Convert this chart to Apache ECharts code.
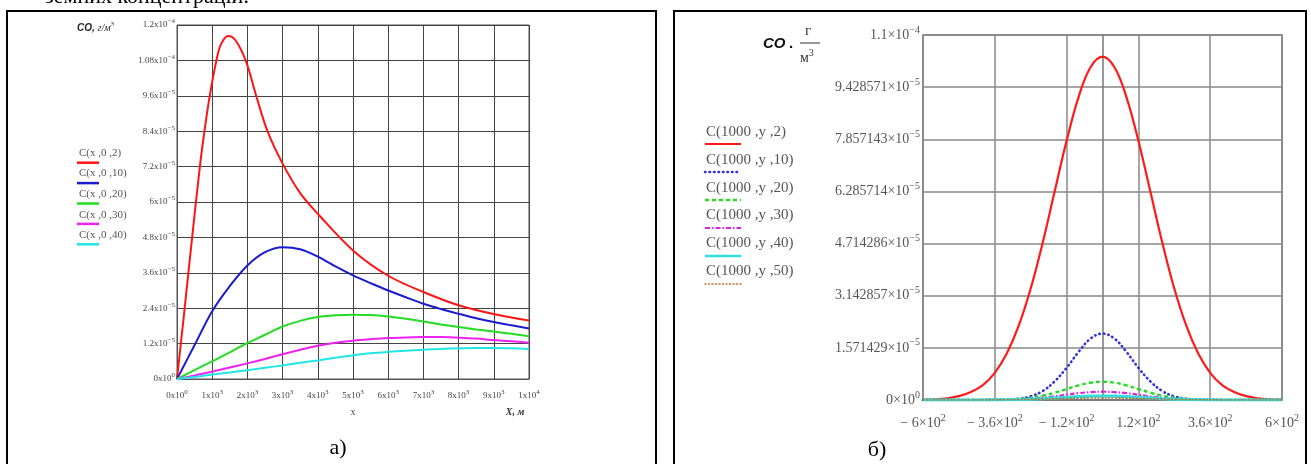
<!DOCTYPE html>
<html><head><meta charset="utf-8">
<script src="https://cdn.jsdelivr.net/npm/echarts@6/dist/echarts.min.js"></script>
<style>html,body{margin:0;padding:0;background:#fff}#c{width:1311px;height:464px}</style>
</head><body><div id="c"></div>
<script>
// ---------- panel a) data ----------
const redX = [0, 200, 430, 650, 780, 930, 1120, 1250, 1450, 1650, 1950, 2250, 2570, 3000, 3500, 4000, 5000, 6000, 7000, 8000, 9000, 10000];
const redY = [0, 2.2e-5, 4.8e-5, 7.2e-5, 8.4e-5, 9.6e-5, 1.08e-4, 1.135e-4, 1.163e-4, 1.15e-4, 1.08e-4, 9.6e-5, 8.4e-5, 7.3e-5, 6.3e-5, 5.6e-5, 4.36e-5, 3.5e-5, 2.95e-5, 2.5e-5, 2.2e-5, 1.98e-5];
const leftX = [0, 500, 1000, 1500, 2000, 2500, 3000, 3500, 4000, 4500, 5000, 5500, 6000, 6500, 7000, 7500, 8000, 8500, 9000, 9500, 10000];
const blueY = [0, 1.15e-5, 2.3e-5, 3.15e-5, 3.85e-5, 4.3e-5, 4.47e-5, 4.4e-5, 4.15e-5, 3.82e-5, 3.51e-5, 3.25e-5, 3.0e-5, 2.77e-5, 2.55e-5, 2.37e-5, 2.21e-5, 2.06e-5, 1.93e-5, 1.82e-5, 1.71e-5];
const greenY = [0, 3e-6, 6e-6, 9e-6, 1.22e-5, 1.5e-5, 1.78e-5, 1.97e-5, 2.1e-5, 2.16e-5, 2.18e-5, 2.17e-5, 2.12e-5, 2.04e-5, 1.95e-5, 1.85e-5, 1.76e-5, 1.68e-5, 1.61e-5, 1.53e-5, 1.45e-5];
const magentaY = [0, 1.2e-6, 2.5e-6, 3.9e-6, 5.3e-6, 6.8e-6, 8.4e-6, 9.9e-6, 1.13e-5, 1.23e-5, 1.3e-5, 1.35e-5, 1.39e-5, 1.41e-5, 1.42e-5, 1.42e-5, 1.4e-5, 1.37e-5, 1.32e-5, 1.28e-5, 1.23e-5];
const cyanY = [0, 7e-7, 1.5e-6, 2.2e-6, 3e-6, 3.8e-6, 4.6e-6, 5.5e-6, 6.3e-6, 7.2e-6, 8e-6, 8.7e-6, 9.2e-6, 9.6e-6, 9.9e-6, 1.02e-5, 1.04e-5, 1.05e-5, 1.05e-5, 1.04e-5, 1.02e-5];
const leftYTicks = ['0x10^0', '1.2x10^−5', '2.4x10^−5', '3.6x10^−5', '4.8x10^−5', '6x10^−5', '7.2x10^−5', '8.4x10^−5', '9.6x10^−5', '1.08x10^−4', '1.2x10^−4'];
const leftXTicks = ['0x10^0', '1x10^3', '2x10^3', '3x10^3', '4x10^3', '5x10^3', '6x10^3', '7x10^3', '8x10^3', '9x10^3', '1x10^4'];
const leftLegend = ['C(x ,0 ,2)', 'C(x ,0 ,10)', 'C(x ,0 ,20)', 'C(x ,0 ,30)', 'C(x ,0 ,40)'];

// ---------- panel б) data ----------
const rightX = [-600, -560, -520, -480, -440, -400, -360, -320, -280, -240, -200, -160, -120, -80, -40, 0, 40, 80, 120, 160, 200, 240, 280, 320, 360, 400, 440, 480, 520, 560, 600];
const r2 = [1e-7, 2e-7, 5e-7, 1.15e-6, 2.4e-6, 4.5e-6, 8.2e-6, 1.4e-5, 2.24e-5, 3.36e-5, 4.74e-5, 6.28e-5, 7.81e-5, 9.13e-5, 1.003e-4, 1.035e-4, 1.003e-4, 9.13e-5, 7.81e-5, 6.28e-5, 4.74e-5, 3.36e-5, 2.24e-5, 1.4e-5, 8.2e-6, 4.5e-6, 2.4e-6, 1.15e-6, 5e-7, 2e-7, 1e-7];
const r10 = [0, 0, 0, 0, 0, 0, 6e-8, 1.2e-7, 4e-7, 1.1e-6, 2.7e-6, 5.6e-6, 9.7e-6, 1.45e-5, 1.85e-5, 2.0e-5, 1.85e-5, 1.45e-5, 9.7e-6, 5.6e-6, 2.7e-6, 1.1e-6, 4e-7, 1.2e-7, 6e-8, 0, 0, 0, 0, 0, 0];
const r20 = [0, 0, 0, 0, 0, 0, 5e-8, 1.5e-7, 3.5e-7, 7e-7, 1.3e-6, 2.2e-6, 3.3e-6, 4.4e-6, 5.2e-6, 5.5e-6, 5.2e-6, 4.4e-6, 3.3e-6, 2.2e-6, 1.3e-6, 7e-7, 3.5e-7, 1.5e-7, 5e-8, 0, 0, 0, 0, 0, 0];
const r30 = [0, 0, 0, 0, 0, 0, 0, 1e-7, 2e-7, 4e-7, 7e-7, 1.1e-6, 1.6e-6, 2.06e-6, 2.37e-6, 2.5e-6, 2.37e-6, 2.06e-6, 1.6e-6, 1.1e-6, 7e-7, 4e-7, 2e-7, 1e-7, 0, 0, 0, 0, 0, 0, 0];
const r40 = [0, 0, 0, 0, 0, 0, 4e-8, 8e-8, 1.6e-7, 2.7e-7, 4.3e-7, 6.3e-7, 8.3e-7, 1.02e-6, 1.15e-6, 1.2e-6, 1.15e-6, 1.02e-6, 8.3e-7, 6.3e-7, 4.3e-7, 2.7e-7, 1.6e-7, 8e-8, 4e-8, 0, 0, 0, 0, 0, 0];
const r50 = [0, 0, 0, 0, 0, 2e-8, 4e-8, 7e-8, 1.2e-7, 1.9e-7, 2.7e-7, 3.6e-7, 4.5e-7, 5.3e-7, 5.8e-7, 6e-7, 5.8e-7, 5.3e-7, 4.5e-7, 3.6e-7, 2.7e-7, 1.9e-7, 1.2e-7, 7e-8, 4e-8, 2e-8, 0, 0, 0, 0, 0];
const rightYTicks = ['0×10^0', '1.571429×10^−5', '3.142857×10^−5', '4.714286×10^−5', '6.285714×10^−5', '7.857143×10^−5', '9.428571×10^−5', '1.1×10^−4'];
const rightXTicks = ['− 6×10^2', '− 3.6×10^2', '− 1.2×10^2', '1.2×10^2', '3.6×10^2', '6×10^2'];
const rightLegend = ['C(1000 ,y ,2)', 'C(1000 ,y ,10)', 'C(1000 ,y ,20)', 'C(1000 ,y ,30)', 'C(1000 ,y ,40)', 'C(1000 ,y ,50)'];

// ---------- styles ----------
const SERIF = 'Liberation Serif';
const leftColors = ['#ff1414', '#1a1ad0', '#22dd22', '#ee22ee', '#22e6e6'];
const rightStyles = [
  {color: '#ff1a1a', width: 2.2, type: 'solid', cap: 'butt'},
  {color: '#3030e0', width: 2.6, type: [0.5, 4], cap: 'round'},
  {color: '#22dd22', width: 2.4, type: [4, 3], cap: 'butt'},
  {color: '#dd22dd', width: 2.2, type: [5, 2, 1.5, 2], cap: 'butt'},
  {color: '#33dddd', width: 3.2, type: 'solid', cap: 'butt'},
  {color: '#b07a3a', width: 1.6, type: [1, 2.5], cap: 'round'}
];

function pair(xs, ys) { return xs.map((x, i) => [x, ys[i]]); }
function sup(s) { const p = s.split('^'); return '{m|' + p[0] + '}{e|' + p[1] + '}'; }

const leftRich = {
  m: {fontFamily: SERIF, fontSize: 9, color: '#444', lineHeight: 14},
  e: {fontFamily: SERIF, fontSize: 7, color: '#444', lineHeight: 7, verticalAlign: 'top'}
};
const rightRich = {
  m: {fontFamily: SERIF, fontSize: 14, color: '#555', lineHeight: 20},
  e: {fontFamily: SERIF, fontSize: 10, color: '#555', lineHeight: 10, verticalAlign: 'top'}
};

const graphic = [];
// top cut-off text
graphic.push({type: 'text', left: 45, top: -14, style: {text: 'земних концентрацій.', font: '22px "Liberation Serif"', fill: '#000'}});
// boxes
graphic.push({type: 'rect', shape: {x: 7, y: 11, width: 649, height: 470}, style: {fill: 'none', stroke: '#000', lineWidth: 2}, z: 10});
graphic.push({type: 'rect', shape: {x: 674, y: 11, width: 632, height: 470}, style: {fill: 'none', stroke: '#000', lineWidth: 2}, z: 10});
// panel labels
graphic.push({type: 'text', x: 338, y: 448, style: {text: 'а)', font: '22px "Liberation Serif"', fill: '#000', align: 'center', verticalAlign: 'middle'}});
graphic.push({type: 'text', x: 877, y: 450, style: {text: 'б)', font: '22px "Liberation Serif"', fill: '#000', align: 'center', verticalAlign: 'middle'}});
// left axis titles
graphic.push({type: 'text', x: 77, y: 28, style: {text: '{a|CO, }{b|г/м}{s|3}', verticalAlign: 'middle', rich: {
  a: {font: 'italic bold 10px "Liberation Sans"', fill: '#222', lineHeight: 14},
  b: {font: 'italic 10px "Liberation Serif"', fill: '#222', lineHeight: 14},
  s: {font: 'italic 7px "Liberation Serif"', fill: '#222', lineHeight: 7, verticalAlign: 'top'}}}});
graphic.push({type: 'text', x: 353, y: 412, style: {text: 'x', font: '10px "Liberation Serif"', fill: '#444', align: 'center', verticalAlign: 'middle'}});
graphic.push({type: 'text', x: 515, y: 412, style: {text: 'X, м', font: 'italic bold 10px "Liberation Serif"', fill: '#333', align: 'center', verticalAlign: 'middle'}});
// left legend
leftLegend.forEach((t, i) => {
  graphic.push({type: 'text', x: 79, y: 153 + i * 20.6, style: {text: t, font: '11px "Liberation Serif"', fill: '#555', verticalAlign: 'middle'}});
  graphic.push({type: 'line', shape: {x1: 77, y1: 162.7 + i * 20.4, x2: 99, y2: 162.7 + i * 20.4}, style: {stroke: leftColors[i], lineWidth: 2.5}});
});
// right axis title: CO . г / м^3
graphic.push({type: 'text', x: 763, y: 44, style: {text: 'CO', font: 'italic bold 15px "Liberation Sans"', fill: '#111', verticalAlign: 'middle'}});
graphic.push({type: 'text', x: 789, y: 44, style: {text: '.', font: 'bold 15px "Liberation Sans"', fill: '#111', verticalAlign: 'middle'}});
graphic.push({type: 'text', x: 808, y: 31, style: {text: 'г', font: '15px "Liberation Serif"', fill: '#333', align: 'center', verticalAlign: 'middle'}});
graphic.push({type: 'line', shape: {x1: 800, y1: 43, x2: 820, y2: 43}, style: {stroke: '#333', lineWidth: 1}});
graphic.push({type: 'text', x: 800, y: 58, style: {text: '{b|м}{s|3}', verticalAlign: 'middle', rich: {
  b: {font: '14px "Liberation Serif"', fill: '#333', lineHeight: 20},
  s: {font: '10px "Liberation Serif"', fill: '#333', lineHeight: 10, verticalAlign: 'top'}}}});
// right legend
rightLegend.forEach((t, i) => {
  const st = rightStyles[i];
  graphic.push({type: 'text', x: 706, y: 132 + i * 27.8, style: {text: t, font: '15px "Liberation Serif"', fill: '#555', verticalAlign: 'middle'}});
  graphic.push({type: 'line', shape: {x1: 705, y1: 144 + i * 28, x2: 741, y2: 144 + i * 28}, style: {stroke: st.color, lineWidth: Math.min(st.width, 2.6), lineDash: st.type === 'solid' ? null : st.type, lineCap: st.cap}});
});

const chart = echarts.init(document.getElementById('c'), null, {renderer: 'canvas'});
const leftLine = (xs, ys, c) => ({type: 'line', xAxisIndex: 0, yAxisIndex: 0, data: pair(xs, ys), smooth: 0.35, showSymbol: false, lineStyle: {color: c, width: 2}});
const option = {
  animation: false,
  backgroundColor: '#fff',
  graphic: graphic,
  grid: [
    {left: 177, top: 25, width: 352, height: 354, show: true, borderColor: '#555', borderWidth: 1},
    {left: 923, top: 35, width: 359, height: 365, show: true, borderColor: '#777', borderWidth: 1.5}
  ],
  xAxis: [
    {gridIndex: 0, type: 'value', min: 0, max: 10000, interval: 1000,
      axisLine: {show: true, lineStyle: {color: '#555', width: 1}}, axisTick: {show: false},
      splitLine: {show: true, lineStyle: {color: '#444', width: 1}},
      axisLabel: {margin: 10, hideOverlap: false, showMinLabel: true, showMaxLabel: true,
        formatter: v => sup(leftXTicks[Math.round(v / 1000)]), rich: leftRich}},
    {gridIndex: 1, type: 'value', min: -600, max: 600, interval: 240,
      axisLine: {show: true, onZero: false, lineStyle: {color: '#777', width: 1.5}}, axisTick: {show: false},
      splitLine: {show: true, lineStyle: {color: '#888', width: 1.5}},
      axisLabel: {margin: 13, hideOverlap: false, showMinLabel: true, showMaxLabel: true,
        formatter: v => sup(rightXTicks[Math.round((v + 600) / 240)]), rich: rightRich}}
  ],
  yAxis: [
    {gridIndex: 0, type: 'value', min: 0, max: 1.2e-4, interval: 1.2e-5,
      axisLine: {show: true, lineStyle: {color: '#555', width: 1}}, axisTick: {show: false},
      splitLine: {show: true, lineStyle: {color: '#444', width: 1}},
      axisLabel: {margin: 2, hideOverlap: false, showMinLabel: true, showMaxLabel: true,
        formatter: v => sup(leftYTicks[Math.round(v / 1.2e-5)]), rich: leftRich}},
    {gridIndex: 1, type: 'value', min: 0, max: 1.1e-4, interval: 1.1e-4 / 7,
      axisLine: {show: true, lineStyle: {color: '#777', width: 1.5}}, axisTick: {show: false},
      splitLine: {show: true, lineStyle: {color: '#888', width: 1.5}},
      axisLabel: {margin: 3, hideOverlap: false, showMinLabel: true, showMaxLabel: true,
        formatter: v => sup(rightYTicks[Math.round(v / (1.1e-4 / 7))]), rich: rightRich}}
  ],
  series: [
    leftLine(redX, redY, leftColors[0]),
    leftLine(leftX, blueY, leftColors[1]),
    leftLine(leftX, greenY, leftColors[2]),
    leftLine(leftX, magentaY, leftColors[3]),
    leftLine(leftX, cyanY, leftColors[4])
  ].concat([r2, r10, r20, r30, r40, r50].map((ys, i) => ({
    type: 'line', xAxisIndex: 1, yAxisIndex: 1, data: pair(rightX, ys), smooth: 0.4, showSymbol: false,
    lineStyle: {color: rightStyles[i].color, width: rightStyles[i].width, type: rightStyles[i].type, cap: rightStyles[i].cap}
  })))
};
chart.setOption(option);
</script>
</body></html>
